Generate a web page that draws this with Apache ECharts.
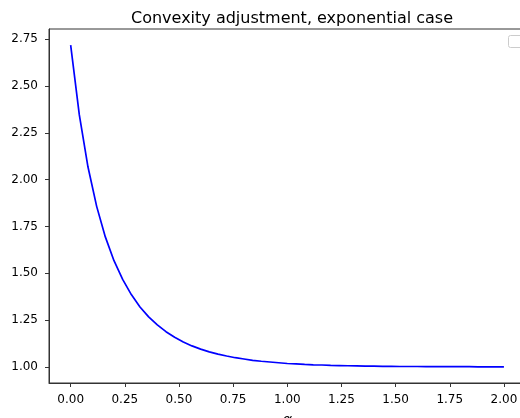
<!DOCTYPE html>
<html>
<head>
<meta charset="utf-8">
<script src="https://cdn.jsdelivr.net/npm/echarts@6/dist/echarts.min.js"></script>
<style>html,body{margin:0;padding:0;background:#fff;}#c{width:520px;height:418px;}</style>
</head>
<body>
<div id="c"></div>
<script>
const alphaValues = [0.00,0.04,0.08,0.12,0.16,0.20,0.24,0.28,0.32,0.36,0.40,0.44,0.48,0.52,0.56,0.60,0.64,0.68,0.72,0.76,0.80,0.84,0.88,0.92,0.96,1.00,1.04,1.08,1.12,1.16,1.20,1.24,1.28,1.32,1.36,1.40,1.44,1.48,1.52,1.56,1.60,1.64,1.68,1.72,1.76,1.80,1.84,1.88,1.92,1.96,2.00];
const adjustment = [2.718,2.345,2.067,1.857,1.694,1.567,1.467,1.386,1.320,1.267,1.224,1.188,1.158,1.133,1.112,1.095,1.080,1.068,1.058,1.049,1.042,1.035,1.030,1.026,1.022,1.018,1.016,1.013,1.011,1.010,1.008,1.007,1.006,1.005,1.004,1.004,1.003,1.003,1.002,1.002,1.002,1.001,1.001,1.001,1.001,1.001,1.001,1.000,1.000,1.000,1.000];
const xTicks = [0,0.25,0.5,0.75,1,1.25,1.5,1.75,2];
const yTicks = [1,1.25,1.5,1.75,2,2.25,2.5,2.75];

const font = 'DejaVu Sans';
const chart = echarts.init(document.getElementById('c'), null, {renderer:'canvas'});
chart.setOption({
  animation:false,
  title:{text:'Convexity adjustment, exponential case', left:287, textAlign:'center', top:6,
    textStyle:{fontFamily:font,fontSize:16,fontWeight:'normal',color:'#000'}},
  grid:{left:49, top:29, width:476.6, height:354, show:true, borderColor:'#333', borderWidth:1,
    containLabel:false, outerBoundsMode:'none'},
  xAxis:{type:'value', min:-0.1, max:2.1, name:'α', nameLocation:'middle', nameGap:31,
    nameTextStyle:{fontFamily:font,fontStyle:'italic',fontSize:15,color:'#000'},
    axisLine:{onZero:false,lineStyle:{color:'#333',width:1}},
    axisTick:{show:true,length:4,lineStyle:{color:'#333'},customValues:xTicks},
    axisLabel:{fontFamily:font,fontSize:12,color:'#000',margin:11,customValues:xTicks,formatter:v=>v.toFixed(2)},
    splitLine:{show:false}},
  yAxis:{type:'value', min:0.914, max:2.804,
    axisLine:{show:true,onZero:false,lineStyle:{color:'#333',width:1}},
    axisTick:{show:true,length:4,lineStyle:{color:'#333'},customValues:yTicks},
    axisLabel:{fontFamily:font,fontSize:12,color:'#000',margin:11,customValues:yTicks,formatter:v=>v.toFixed(2)},
    splitLine:{show:false}},
  graphic:[{type:'rect',left:508,top:35,shape:{width:16,height:12,r:2},style:{fill:'#fff',stroke:'#ccc',lineWidth:1}}],
  series:[{type:'line', data:alphaValues.map((a,i)=>[a,adjustment[i]]), showSymbol:false, smooth:false,
    lineStyle:{color:'#0000ff',width:1.7}, itemStyle:{color:'#0000ff'}}]
});
</script>
</body>
</html>
